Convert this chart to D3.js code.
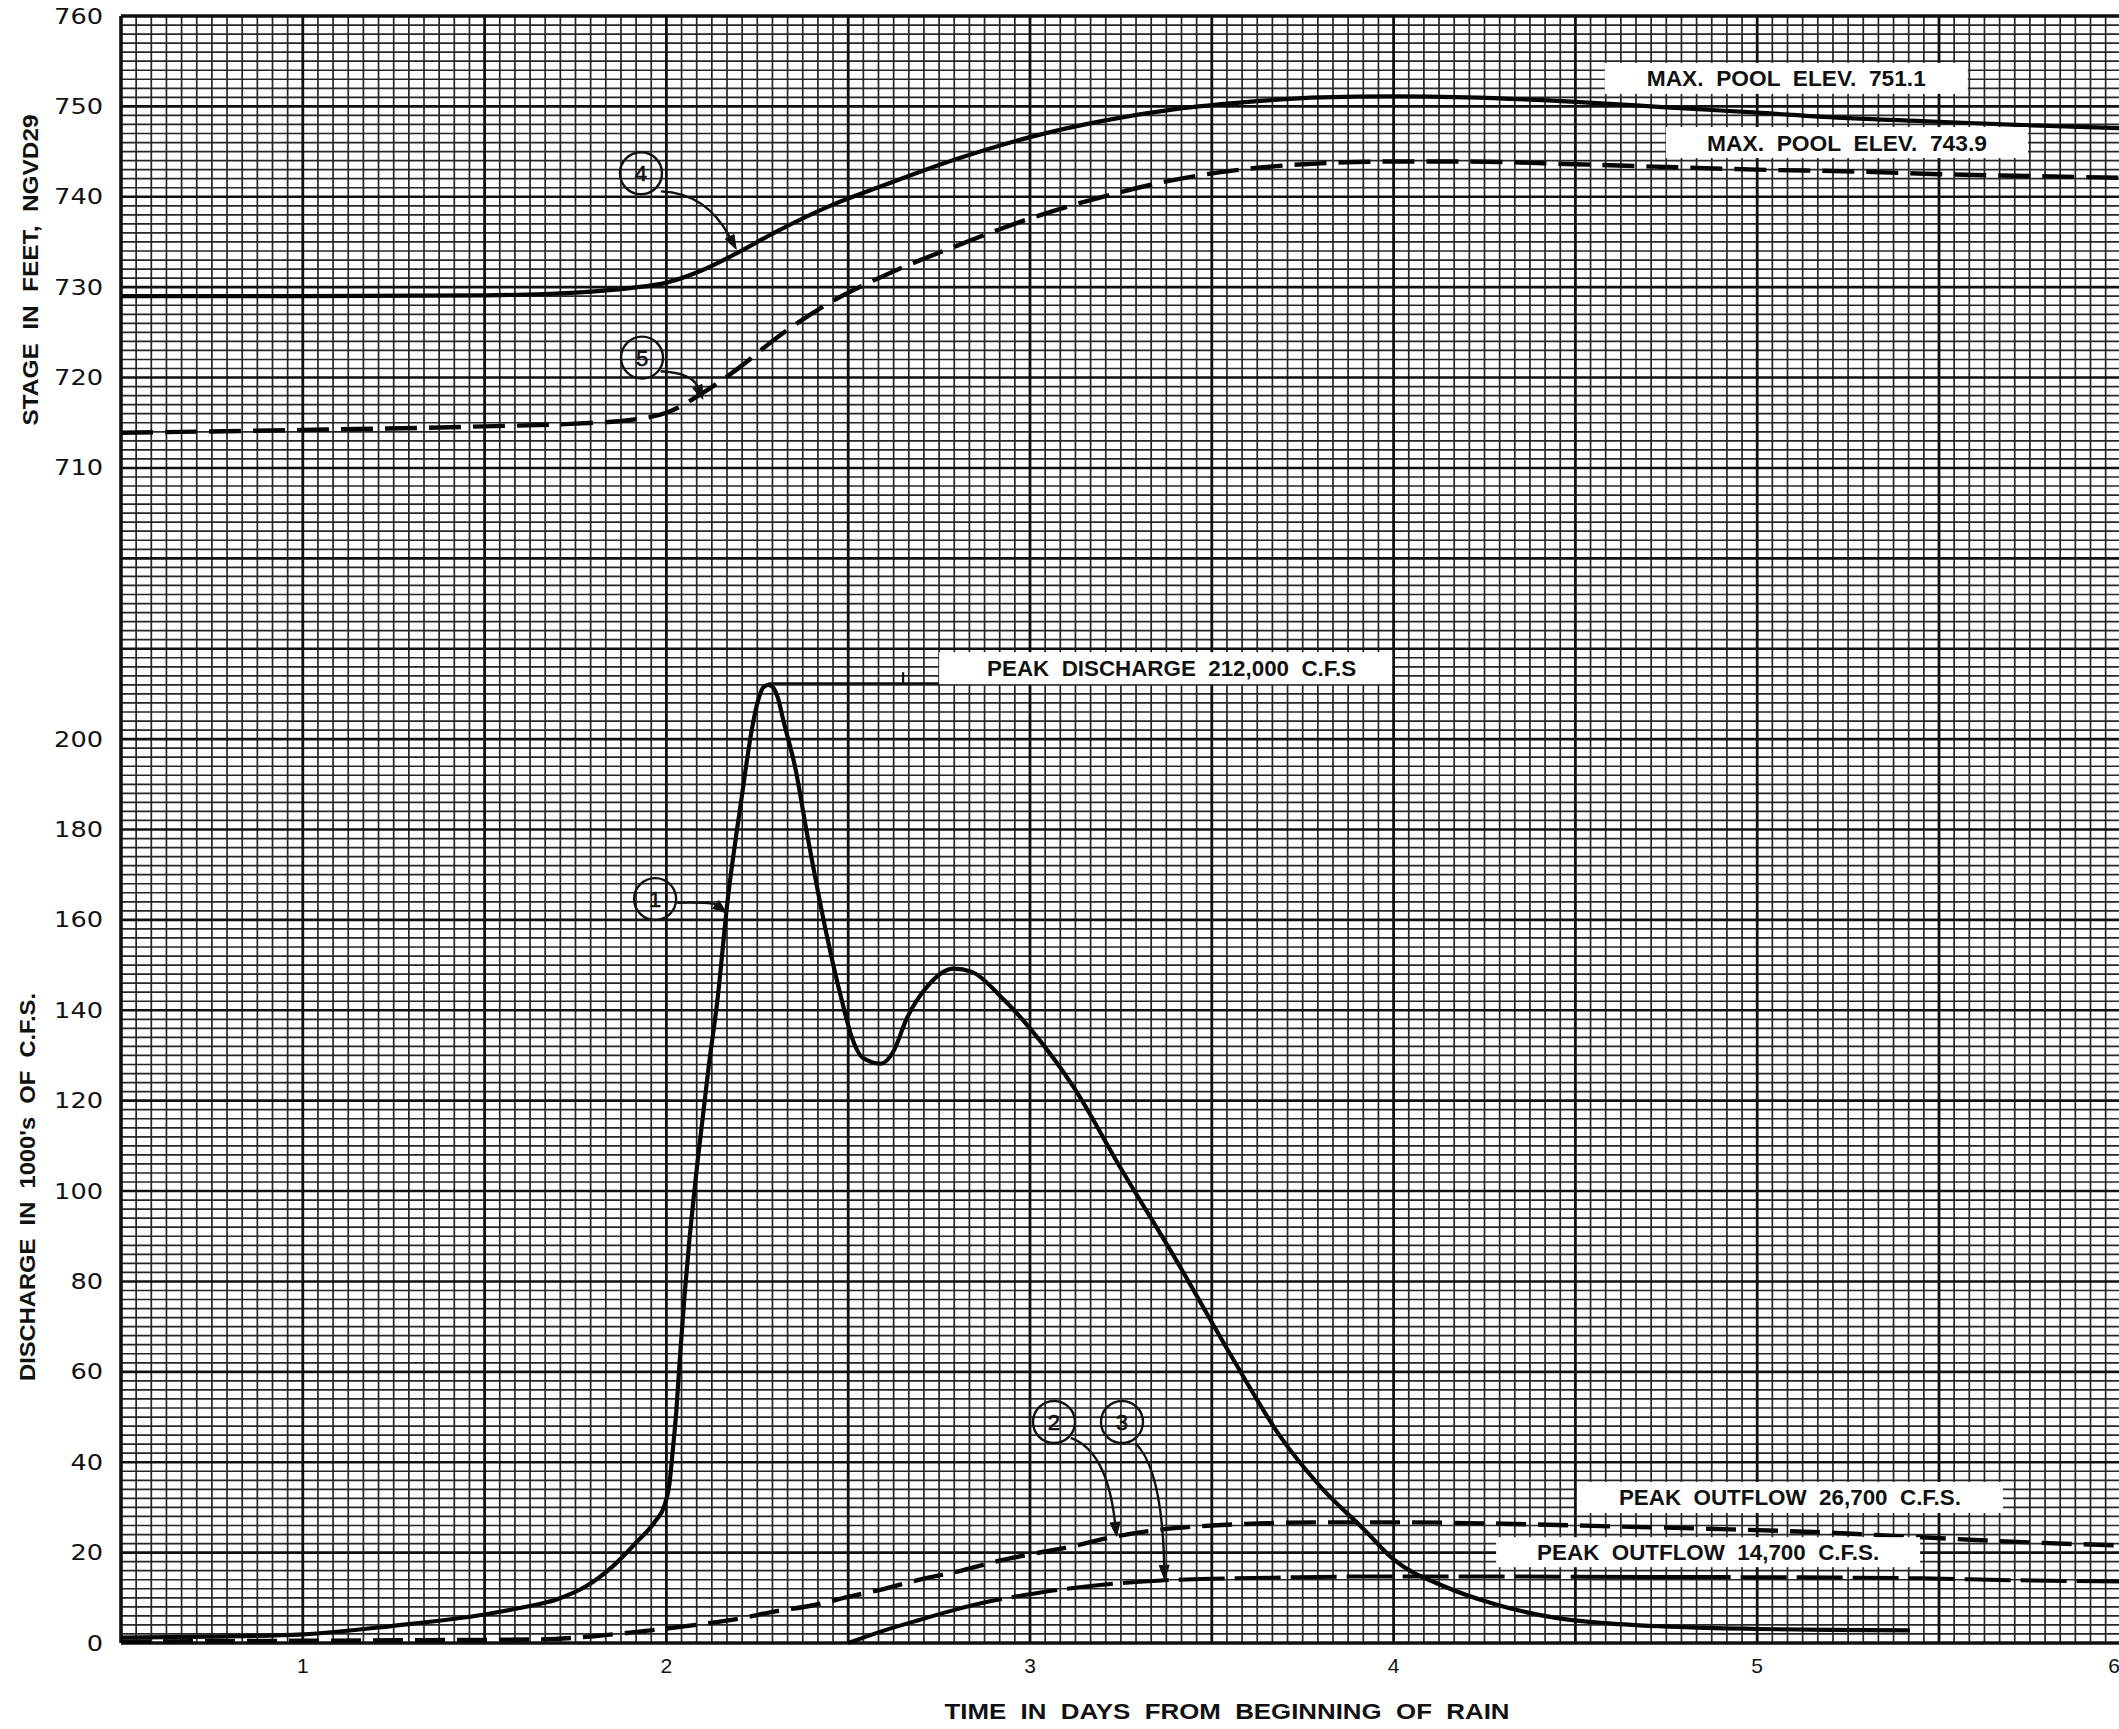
<!DOCTYPE html>
<html>
<head>
<meta charset="utf-8">
<script src="https://cdn.jsdelivr.net/npm/d3@7"></script>
<style>
  html, body { margin: 0; padding: 0; background: #fff; overflow: hidden; }
  svg { display: block; }
  text { white-space: pre; }
</style>
</head>
<body>
<svg id="chart" width="2119" height="1729"></svg>
<script>
// ---- Axis ticks ----------------------------------------------------------
const dayTicks = [1, 2, 3, 4, 5, 6];
const stageTicks = [710, 720, 730, 740, 750, 760];
const dischargeTicks = [0, 20, 40, 60, 80, 100, 120, 140, 160, 180, 200];

// ---- Series: [day, value] -------------------------------------------------
// (1) inflow hydrograph, 1000's of c.f.s.
const inflow = [
  [0.5, 1.2], [0.75, 1.4], [1.0, 1.9], [1.25, 3.8], [1.5, 6.3], [1.6, 7.8],
  [1.7, 9.7], [1.78, 12.6], [1.85, 16.8], [1.92, 22.5], [1.97, 27], [1.995, 30.5],
  [2.008, 35], [2.018, 43], [2.027, 51], [2.037, 63], [2.05, 77], [2.062, 88],
  [2.085, 106], [2.117, 128], [2.14, 142], [2.168, 164], [2.206, 186.5],
  [2.236, 202.6], [2.252, 208.5], [2.266, 211.4], [2.28, 212], [2.294, 211.4],
  [2.307, 209], [2.322, 204], [2.354, 193.8], [2.387, 179], [2.44, 157],
  [2.483, 142], [2.51, 134], [2.54, 129.5], [2.59, 128.2], [2.625, 131],
  [2.66, 138], [2.72, 145.5], [2.79, 149.2], [2.84, 148.5], [2.92, 143],
  [3.0, 136], [3.12, 123], [3.25, 105], [3.4, 85], [3.55, 64], [3.69, 45.5],
  [3.8, 34.5], [3.92, 25], [4.0, 18.5], [4.14, 12.5], [4.27, 8.8], [4.45, 5.5],
  [4.6, 4.3], [4.8, 3.5], [5.0, 3.1], [5.2, 2.9], [5.42, 2.8]
];
// (2) outflow, 1000's of c.f.s.
const outflowA = [
  [0.5, 0.3], [0.75, 0.4], [1.0, 0.5], [1.25, 0.6], [1.5, 0.7], [1.65, 0.8],
  [1.8, 1.5], [1.9, 2.3], [2.0, 3.2], [2.1, 4.2], [2.2, 5.4], [2.3, 7.0],
  [2.4, 8.3], [2.5, 10.2], [2.6, 12.0], [2.7, 14.1], [2.8, 15.8], [2.9, 17.9],
  [3.0, 19.6], [3.1, 21.1], [3.23, 23.5], [3.35, 25.0], [3.5, 26.0], [3.65, 26.5],
  [3.8, 26.7], [4.0, 26.7], [4.3, 26.4], [4.6, 25.8], [4.9, 25.2], [5.2, 24.4],
  [5.4, 23.6], [5.6, 22.8], [5.8, 22.1], [6.0, 21.6]
];
// (3) outflow, 1000's of c.f.s.
const outflowB = [
  [2.5, 0], [2.6, 2.8], [2.7, 5.2], [2.8, 7.5], [2.9, 9.4], [3.0, 10.8],
  [3.1, 12.0], [3.2, 12.9], [3.35, 13.8], [3.5, 14.2], [3.7, 14.5], [3.9, 14.7],
  [4.3, 14.7], [4.8, 14.6], [5.2, 14.5], [5.45, 14.3], [5.7, 13.9], [6.0, 13.6]
];
// (4) pool stage, feet NGVD29
const poolA = [
  [0.5, 729.0], [1.0, 729.0], [1.5, 729.1], [1.75, 729.4], [1.9, 729.9],
  [2.0, 730.5], [2.1, 731.9], [2.2, 733.9], [2.3, 736.1], [2.45, 739.0],
  [2.6, 741.3], [2.8, 744.2], [3.0, 746.6], [3.2, 748.4], [3.4, 749.7],
  [3.6, 750.5], [3.8, 751.0], [4.0, 751.1], [4.2, 751.0], [4.5, 750.5],
  [4.75, 749.9], [5.0, 749.3], [5.25, 748.7], [5.5, 748.3], [5.75, 747.9], [6.0, 747.6]
];
// (5) pool stage, feet NGVD29
const poolB = [
  [0.5, 713.9], [1.0, 714.2], [1.5, 714.6], [1.75, 714.9], [1.9, 715.3],
  [2.0, 716.1], [2.1, 718.3], [2.2, 721.1], [2.3, 724.3], [2.45, 728.3],
  [2.6, 731.3], [2.8, 734.6], [3.0, 737.6], [3.2, 740.0], [3.4, 741.9],
  [3.6, 743.1], [3.8, 743.7], [4.0, 743.9], [4.2, 743.9], [4.5, 743.6],
  [4.75, 743.3], [5.0, 743.0], [5.27, 742.8], [5.5, 742.5], [5.75, 742.3], [6.0, 742.1]
];

// ---- Callout texts --------------------------------------------------------
const notes = [
  { text: "MAX.  POOL  ELEV.  751.1",       axis: "stage", day: 5.080, val: 753.1, boxW: 363, boxH: 31, textW: 279 },
  { text: "MAX.  POOL  ELEV.  743.9",       axis: "stage", day: 5.247, val: 746.0, boxW: 362, boxH: 31, textW: 280 },
  { text: "PEAK  DISCHARGE  212,000  C.F.S", axis: "q", day: 3.373, val: 215.7, boxW: 453, boxH: 32, textW: 369, dx: 6 },
  { text: "PEAK  OUTFLOW  26,700  C.F.S.",   axis: "q", day: 5.090, val: 32.2, boxW: 426, boxH: 31, textW: 342 },
  { text: "PEAK  OUTFLOW  14,700  C.F.S.",   axis: "q", day: 4.865, val: 20.1, boxW: 424, boxH: 30, textW: 342 }
];

// Numbered circles with arrows: circle centre, arrow start, bend, tip
const markers = [
  { n: "4", axis: "stage", c: [1.93, 742.6], s: [1.985, 740.6], k: [2.11, 740.4], t: [2.192, 734.2] },
  { n: "5", axis: "stage", c: [1.933, 722.2], s: [1.984, 720.7], k: [2.07, 720.5], t: [2.1, 717.6] },
  { n: "1", axis: "q", c: [1.969, 164.6], s: [2.03, 163.8], k: [2.128, 163.9], t: [2.166, 161.5] },
  { n: "2", axis: "q", c: [3.066, 48.9], s: [3.112, 45.4], k: [3.212, 42.5], t: [3.238, 23.6] },
  { n: "3", axis: "q", c: [3.253, 48.9], s: [3.29, 44.2], k: [3.363, 38.5], t: [3.37, 14.1] }
];

// Peak-discharge leader: from the crest along to the label, with a small riser
const peakLeader = [[2.28, 212.3], [2.76, 212.3]];
const peakRiser = [[2.651, 212.3], [2.651, 214.8]];

// ---- Scales ---------------------------------------------------------------
const W = 2119;
const svg = d3.select("#chart");
const plotLeft = 121, plotTop = 16, plotBottom = 1643, pxPerDay = 363.6;
const x = d3.scaleLinear().domain([0.5, 6]).range([plotLeft, plotLeft + 5.5 * pxPerDay]);
const yQ = d3.scaleLinear().domain([0, 360]).range([plotBottom, plotTop]);
const yS = d3.scaleLinear().domain([580, 760]).range([plotBottom, plotTop]);
const yOf = a => (a === "stage" ? yS : yQ);

// ---- Graph paper ----------------------------------------------------------
const grid = svg.append("g").attr("fill", "none");
const vIdx = d3.range(0, 133);            // one line per hour
const hIdx = d3.range(0, 181);            // one line per 2,000 c.f.s. / 1 ft
const xR = x.range()[1];

grid.selectAll("line.vminor").data(vIdx.filter(i => i % 12 !== 0)).join("line")
  .attr("x1", i => x(0.5 + i / 24)).attr("x2", i => x(0.5 + i / 24))
  .attr("y1", plotTop).attr("y2", plotBottom)
  .attr("stroke", "#262626").attr("stroke-width", 1.7);
grid.selectAll("line.hminor").data(hIdx.filter(j => j % 10 !== 0)).join("line")
  .attr("x1", plotLeft).attr("x2", xR)
  .attr("y1", j => yQ(j * 2)).attr("y2", j => yQ(j * 2))
  .attr("stroke", "#262626").attr("stroke-width", 1.7);
grid.selectAll("line.hmajor").data(hIdx.filter(j => j % 10 === 0)).join("line")
  .attr("x1", plotLeft).attr("x2", xR)
  .attr("y1", j => yQ(j * 2)).attr("y2", j => yQ(j * 2))
  .attr("stroke", "#111").attr("stroke-width", j => (j === 0 || j === 180) ? 3.6 : 2.6);
grid.selectAll("line.vmajor").data(vIdx.filter(i => i % 12 === 0)).join("line")
  .attr("x1", i => x(0.5 + i / 24)).attr("x2", i => x(0.5 + i / 24))
  .attr("y1", plotTop).attr("y2", plotBottom)
  .attr("stroke", "#111").attr("stroke-width", i => i === 0 ? 3.6 : 2.8);

// ---- Axis labels ----------------------------------------------------------
const tickFont = "'DejaVu Sans', Verdana, sans-serif";
const yLab = svg.append("g").attr("font-family", tickFont).attr("font-size", 20.5).attr("fill", "#111");
yLab.selectAll("text.s").data(stageTicks).join("text")
  .attr("transform", d => `translate(103,${yS(d) + 7.5}) scale(1.25,1)`)
  .attr("text-anchor", "end").text(d => d);
yLab.selectAll("text.q").data(dischargeTicks).join("text")
  .attr("transform", d => `translate(103,${yQ(d) + 7.5}) scale(1.25,1)`)
  .attr("text-anchor", "end").text(d => d);

// day labels; the last one sits at the paper's trimmed right edge
svg.append("g").attr("font-family", "'Liberation Sans', Arial, sans-serif")
  .attr("font-size", 21).attr("fill", "#111")
  .selectAll("text").data(dayTicks).join("text")
  .attr("x", d => Math.min(x(d), W - 5)).attr("y", 1673).attr("text-anchor", "middle").text(d => d);

const titleFont = "'Liberation Sans', Arial, sans-serif";
svg.append("text").attr("font-family", titleFont).attr("font-weight", "bold")
  .attr("font-size", 22).attr("fill", "#111")
  .attr("transform", `translate(38,270) rotate(-90)`).attr("text-anchor", "middle")
  .attr("textLength", 311).attr("lengthAdjust", "spacingAndGlyphs")
  .text("STAGE  IN  FEET,  NGVD29");
svg.append("text").attr("font-family", titleFont).attr("font-weight", "bold")
  .attr("font-size", 22).attr("fill", "#111")
  .attr("transform", `translate(35,1187) rotate(-90)`).attr("text-anchor", "middle")
  .attr("textLength", 388).attr("lengthAdjust", "spacingAndGlyphs")
  .text("DISCHARGE  IN  1000's  OF  C.F.S.");
svg.append("text").attr("font-family", titleFont).attr("font-weight", "bold")
  .attr("font-size", 22).attr("fill", "#111")
  .attr("x", 1227).attr("y", 1719).attr("text-anchor", "middle")
  .attr("textLength", 565).attr("lengthAdjust", "spacingAndGlyphs")
  .text("TIME  IN  DAYS  FROM  BEGINNING  OF  RAIN");

// ---- Curves ---------------------------------------------------------------
const path = ys => d3.line().x(d => x(d[0])).y(d => ys(d[1])).curve(d3.curveMonotoneX);
const curves = svg.append("g").attr("fill", "none").attr("stroke", "#050505")
  .attr("stroke-linecap", "butt").attr("stroke-linejoin", "round");

curves.append("path").attr("d", path(yQ)(inflow)).attr("stroke-width", 4.2);
curves.append("path").attr("d", path(yQ)(outflowA)).attr("stroke-width", 4.4)
  .attr("stroke-dasharray", "30 12");
curves.append("path").attr("d", path(yQ)(outflowB)).attr("stroke-width", 4)
  .attr("stroke-dasharray", "160 10 46 10 46 10 46 10 46 10 46 10 46 10 46 10 46 10 46 10 46 10");
curves.append("path").attr("d", path(yS)(poolA)).attr("stroke-width", 4.2);
curves.append("path").attr("d", path(yS)(poolB)).attr("stroke-width", 4.4)
  .attr("stroke-dasharray", "32 12");

// ---- Leader to peak-discharge label --------------------------------------
const leaderLine = d3.line().x(d => x(d[0])).y(d => yQ(d[1]));
svg.append("path").attr("d", leaderLine(peakLeader))
  .attr("fill", "none").attr("stroke", "#111").attr("stroke-width", 2.6);
svg.append("path").attr("d", leaderLine(peakRiser))
  .attr("fill", "none").attr("stroke", "#111").attr("stroke-width", 2.2);

// ---- Label boxes ----------------------------------------------------------
const boxes = svg.append("g");
notes.forEach(n => {
  const cx = x(n.day), cy = yOf(n.axis)(n.val);
  boxes.append("rect")
    .attr("x", cx - n.boxW / 2).attr("y", cy - n.boxH / 2)
    .attr("width", n.boxW).attr("height", n.boxH).attr("fill", "#fff");
  boxes.append("text")
    .attr("x", cx + (n.dx || 0)).attr("y", cy + 8)
    .attr("text-anchor", "middle")
    .attr("font-family", titleFont).attr("font-weight", "bold")
    .attr("font-size", 22).attr("fill", "#111")
    .attr("textLength", n.textW).attr("lengthAdjust", "spacingAndGlyphs")
    .text(n.text);
});

// ---- Numbered circles and arrows -----------------------------------------
const marks = svg.append("g").attr("stroke", "#111");
markers.forEach(m => {
  const ys = yOf(m.axis);
  const P = p => [x(p[0]), ys(p[1])];
  const [cx, cy] = P(m.c), [sx, sy] = P(m.s), [kx, ky] = P(m.k), [tx, ty] = P(m.t);
  marks.append("circle").attr("cx", cx).attr("cy", cy).attr("r", 21)
    .attr("fill", "none").attr("stroke-width", 2.4);
  marks.append("text").attr("x", cx).attr("y", cy + 8).attr("text-anchor", "middle")
    .attr("stroke", "#111").attr("stroke-width", 0.6).attr("fill", "#111")
    .attr("font-family", titleFont).attr("font-size", 22).text(m.n);
  const a = Math.atan2(ty - ky, tx - kx), L = 14, w = 5;
  const bx = tx - L * Math.cos(a), by = ty - L * Math.sin(a);
  const arc = d3.path();
  arc.moveTo(sx, sy);
  arc.quadraticCurveTo(kx, ky, bx, by);
  marks.append("path").attr("d", arc.toString()).attr("fill", "none").attr("stroke-width", 2.4);
  const head = d3.path();
  head.moveTo(tx, ty);
  head.lineTo(bx + w * Math.sin(a), by - w * Math.cos(a));
  head.lineTo(bx - w * Math.sin(a), by + w * Math.cos(a));
  head.closePath();
  marks.append("path").attr("d", head.toString()).attr("fill", "#111").attr("stroke-width", 1);
});
</script>
</body>
</html>
